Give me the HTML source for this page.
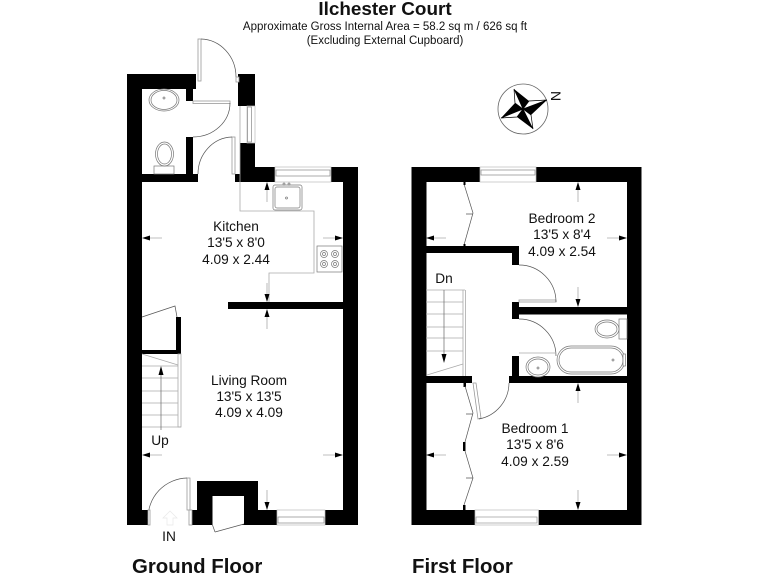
<!DOCTYPE html>
<html><head><meta charset="utf-8"><style>
html,body{margin:0;padding:0;background:#fff;width:768px;height:576px;overflow:hidden}
svg{display:block;filter:blur(.35px)}
text{font-family:"Liberation Sans",Arial,sans-serif;fill:#111}
.r{font-size:13.7px;text-anchor:middle}
.h{font-size:20.4px;font-weight:bold}
.t{fill:none;stroke:#555;stroke-width:.7}
.g{fill:none;stroke:#aaa;stroke-width:.8}
.w{fill:#fff;stroke:#999;stroke-width:.8}
.f{fill:#fff;stroke:#777;stroke-width:.7}
</style></head><body>
<svg width="768" height="576" viewBox="0 0 768 576" xmlns="http://www.w3.org/2000/svg">
<text x="385" y="15" text-anchor="middle" style="font-size:18.9px;font-weight:bold">Ilchester Court</text>
<text x="385" y="30" text-anchor="middle" style="font-size:11.5px">Approximate Gross Internal Area = 58.2 sq m / 626 sq ft</text>
<text x="385" y="44" text-anchor="middle" style="font-size:11.5px">(Excluding External Cupboard)</text>

<!-- Ground floor walls -->
<g fill="#000">
<rect x="127" y="74" width="15" height="451"/>
<rect x="127" y="74" width="69" height="15"/>
<rect x="186" y="74" width="7" height="27"/>
<rect x="238" y="74" width="17" height="32"/>
<rect x="240" y="143" width="15" height="39"/>
<rect x="235" y="167" width="40" height="15" />
<rect x="331" y="167" width="27" height="15"/>
<rect x="343" y="167" width="15" height="358"/>
<rect x="142" y="174" width="56" height="8"/>
<rect x="186" y="137" width="7" height="37"/>
<rect x="228" y="302" width="115" height="7"/>
<rect x="176" y="317" width="5" height="37"/>
<rect x="142" y="350" width="39" height="4"/>
<rect x="127" y="510" width="21" height="15"/>
<rect x="325" y="510" width="33" height="15"/>
<rect x="192" y="510" width="85" height="15"/>
<rect x="197" y="481" width="61" height="29"/>
</g>
<rect x="235" y="167" width="5" height="7" fill="#fff"/>
<!-- cupboard -->
<path d="M212.500 496H244V524L216 532 212.500 526Z" fill="#fff"/>
<path d="M215 532L244 524" class="t"/><path d="M212.500 525L215 532" class="t"/>
<path d="M142 317L175 306 177 317" class="t"/>

<!-- Ground windows -->
<rect x="275" y="167" width="56" height="15" fill="#fff" stroke="#bbb" stroke-width=".7"/>
<rect x="276" y="170" width="54" height="6" fill="#fff" stroke="#888" stroke-width=".7"/>
<rect x="277" y="510" width="48" height="15" fill="#fff" stroke="#bbb" stroke-width=".7"/>
<rect x="278" y="517" width="46" height="6" fill="#fff" stroke="#888" stroke-width=".7"/>
<rect x="247" y="106" width="8" height="37" fill="#fff" stroke="#bbb" stroke-width=".7"/>
<rect x="247.500" y="107" width="4" height="35" fill="#fff" stroke="#888" stroke-width=".7"/>

<!-- Ground doors -->
<rect x="198" y="39" width="3" height="42" class="w"/>
<path d="M201 39A36 38 0 0 1 236 77" class="t"/>
<rect x="236" y="77" width="3" height="5" class="w"/>
<rect x="193" y="101" width="37" height="2.500" class="w"/>
<path d="M230 103A37 34 0 0 1 193 137" class="t"/>
<rect x="232" y="137" width="3" height="37" class="w"/>
<path d="M232 137A35 37 0 0 0 198 174" class="t"/>
<rect x="187" y="478" width="3" height="32" class="w"/>
<path d="M187 478A40 40 0 0 0 148 519" class="t"/>
<rect x="148" y="510" width="2" height="15" class="w"/>
<rect x="189" y="510" width="3" height="15" class="w"/>
<!-- IN ghost arrow -->
<path d="M170 511L163 518H167V525H173V518H177Z" fill="none" stroke="#e8e8e8" stroke-width=".7"/>

<!-- Worktop -->
<path d="M240 106V211H314V273H269V302" class="g"/>
<!-- Sink & hob -->
<rect x="273" y="185" width="29" height="25" rx="2" class="f"/><rect x="275" y="187" width="25" height="21" rx="2" class="f"/>
<circle cx="286.500" cy="198" r="1" class="f"/><circle cx="284" cy="184" r="1" class="f"/><circle cx="289" cy="184" r="1" class="f"/>
<rect x="317" y="246" width="25" height="26" class="f"/>
<g class="f"><circle cx="324" cy="254" r="3.500"/><circle cx="335" cy="254" r="3.500"/><circle cx="324" cy="264" r="3.500"/><circle cx="335" cy="264" r="3.500"/>
<circle cx="324" cy="254" r="1.500"/><circle cx="335" cy="254" r="1.500"/><circle cx="324" cy="264" r="1.500"/><circle cx="335" cy="264" r="1.500"/></g>
<!-- WC -->
<ellipse cx="164" cy="100" rx="15" ry="11" class="f"/><ellipse cx="164" cy="100" rx="13" ry="9.500" class="f"/>
<circle cx="164" cy="98" r="1" class="f"/>
<rect x="154" y="166" width="20" height="8" class="f"/>
<ellipse cx="164.500" cy="154" rx="9" ry="12" class="f"/><ellipse cx="164.500" cy="154" rx="7" ry="10" class="f"/>

<!-- Ground stairs -->
<rect x="178" y="354" width="3" height="73" class="g" fill="none"/>
<path d="M142 354L178 365M142 366H178M142 378H178M142 391H178M142 403H178M142 415H178M142 427H181" class="g"/>
<path d="M161 430V368" fill="none" stroke="#666" stroke-width=".7"/>
<path d="M161 366L158.500 375H163.500Z" fill="#000"/>

<!-- Dimension arrows -->
<g class="g">
<path d="M267 186V202M146 238H162M339 238H323M267 298V283M267 313V329M146 455H162M339 455H323M267 506V490"/>
<path d="M578 186V202M430 238H446M623 238H607M578 303V287M578 387V403M430 455H446M623 455H607M578 506V490"/>
</g>
<g fill="#000">
<path d="M267 182l-2.500 8h5zM142 238l8-2.500v5zM343 238l-8-2.500v5zM267 302l-2.500-8h5zM267 309l-2.500 8h5zM142 455l8-2.500v5zM343 455l-8-2.500v5zM267 510l-2.500-8h5z"/>
<path d="M578 182l-2.500 8h5zM426 238l8-2.500v5zM627 238l-8-2.500v5zM578 307l-2.500-8h5zM578 383l-2.500 8h5zM426 455l8-2.500v5zM627 455l-8-2.500v5zM578 510l-2.500-8h5z"/>
</g>

<!-- First floor walls -->
<g fill="#000">
<rect x="411.500" y="167" width="15" height="358"/>
<rect x="411.500" y="167" width="68.500" height="15"/>
<rect x="536" y="167" width="105" height="15"/>
<rect x="627" y="167" width="14.500" height="358"/>
<rect x="411.500" y="510" width="63.500" height="15"/>
<rect x="538.500" y="510" width="103" height="15"/>
<rect x="426" y="246" width="93" height="7"/>
<rect x="512" y="246" width="7" height="19"/>
<rect x="512" y="302" width="7" height="17"/>
<rect x="512" y="307" width="129" height="7.500"/>
<rect x="512" y="356" width="7" height="20"/>
<rect x="509" y="376" width="132" height="7"/>
<rect x="426" y="376" width="46" height="7"/>
<rect x="463.500" y="383" width="2.500" height="4"/>
</g>
<rect x="480" y="167" width="56" height="15" fill="#fff" stroke="#bbb" stroke-width=".7"/>
<rect x="481" y="170" width="54" height="5" fill="#fff" stroke="#888" stroke-width=".7"/>
<rect x="475" y="510" width="63.500" height="15" fill="#fff" stroke="#bbb" stroke-width=".7"/>
<rect x="476" y="517" width="61" height="6" fill="#fff" stroke="#999" stroke-width=".7"/>

<!-- Wardrobes -->
<path d="M464 184L473 213 464 245M466 214H473" class="t"/>
<rect x="463.500" y="182" width="2" height="3" fill="#000"/><rect x="463.500" y="244" width="2" height="2" fill="#000"/>
<path d="M465 386L473 413 465 442M466 414H473M465 451L473 478 464 505M466 478H473" class="t"/>
<rect x="463" y="442" width="2.500" height="9" fill="#000"/><rect x="463" y="505" width="2.500" height="5" fill="#000"/>

<!-- First doors -->
<path d="M473 383L478 419 481 418 476 383Z" class="w"/>
<path d="M479 419A37 37 0 0 0 509 383" class="t"/>
<rect x="519" y="300" width="37" height="2" class="w"/>
<path d="M519 265A37 37 0 0 1 556 302" class="t"/>
<path d="M519 319A37 37 0 0 1 556 356" class="t"/>
<path d="M519 353H556" class="g"/>

<!-- Bathroom -->
<rect x="557" y="346" width="68" height="28" rx="14" class="f"/>
<rect x="559" y="348" width="64" height="24" rx="12" class="f"/>
<circle cx="613" cy="360" r="1" class="f"/>
<rect x="623" y="354" width="2.500" height="12" class="f"/>
<ellipse cx="538" cy="367" rx="12" ry="10" class="f"/><ellipse cx="538" cy="367" rx="10" ry="8" class="f"/>
<circle cx="538" cy="368" r="1" class="f"/>
<rect x="619" y="319" width="8" height="20" class="f"/>
<ellipse cx="607" cy="329" rx="12" ry="9" class="f"/><ellipse cx="607" cy="329" rx="10" ry="7" class="f"/>

<!-- First stairs -->
<path d="M426 290H465M426 302H463M426 314H463M426 327H463M426 338H463M426 351H463M427 375L463 364" class="g"/>
<path d="M463 290V376M465.500 290V376" class="g"/>
<path d="M444 290V358" fill="none" stroke="#666" stroke-width=".7"/>
<path d="M444 363L441.500 354H446.500Z" fill="#000"/>

<!-- Compass -->
<circle cx="523" cy="109" r="25" fill="#fff" stroke="#666" stroke-width=".8"/>
<path d="M514 89L523 109 515 103ZM547 100L523 109 529 101ZM533 129L523 109 531 115ZM501 118L523 109 517 117Z" fill="#fff" stroke="#000" stroke-width=".7"/>
<path d="M514 89L523 109 529 101ZM547 100L523 109 531 115ZM533 129L523 109 517 117ZM501 118L523 109 515 103Z" fill="#000"/>
<text x="556" y="96" text-anchor="middle" transform="rotate(90 556 96)" dy="5" style="font-size:14px">N</text>

<!-- Labels -->
<text class="r" x="236" y="231">Kitchen</text><text class="r" x="236" y="247">13'5 x 8'0</text><text class="r" x="236" y="264">4.09 x 2.44</text>
<text class="r" x="249" y="385">Living Room</text><text class="r" x="249" y="401">13'5 x 13'5</text><text class="r" x="249" y="417">4.09 x 4.09</text>
<text class="r" x="562" y="223">Bedroom 2</text><text class="r" x="562" y="239">13'5 x 8'4</text><text class="r" x="562" y="256">4.09 x 2.54</text>
<text class="r" x="535" y="433">Bedroom 1</text><text class="r" x="535" y="449">13'5 x 8'6</text><text class="r" x="535" y="466">4.09 x 2.59</text>
<text class="r" x="160" y="445">Up</text>
<text class="r" x="444" y="283">Dn</text>
<text class="r" x="169" y="541">IN</text>
<text class="h" x="132" y="573">Ground Floor</text>
<text class="h" x="412" y="573">First Floor</text>
</svg>
</body></html>
